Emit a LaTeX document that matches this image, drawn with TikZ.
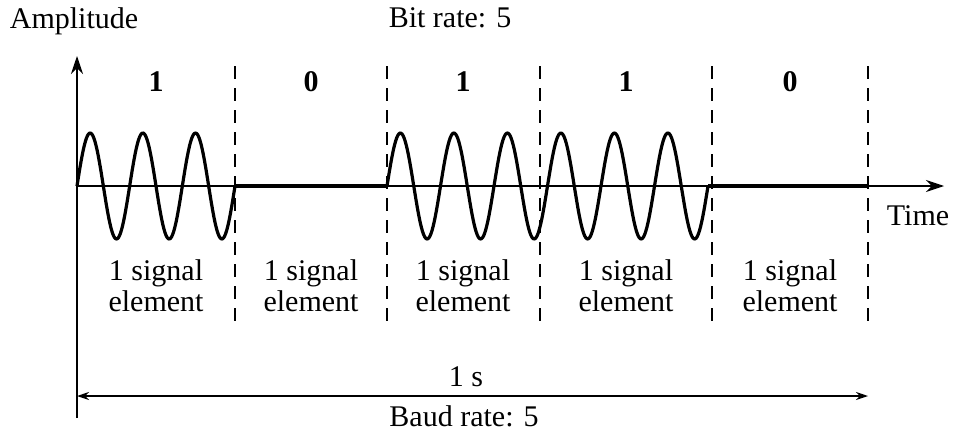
\documentclass[tikz,border=0pt]{standalone}
\usepackage{fontspec}
\setmainfont{Liberation Serif}
\usetikzlibrary{arrows.meta}

\tikzset{
  axisline/.style={line width=0.6pt, -{Stealth[length=9pt,width=6pt]}},
  spanline/.style={line width=0.7pt, {Stealth[length=6pt,width=4pt]}-{Stealth[length=6pt,width=4pt]}},
  wave/.style={line width=1.6pt, line join=round},
  divider/.style={line width=0.9pt, dash pattern=on 6.5pt off 4.5pt},
  lbl/.style={font=\fontsize{15}{15.5}\selectfont, inner sep=0pt, align=center},
  bitlbl/.style={lbl, font=\fontsize{15}{15.5}\selectfont\bfseries},
}

\begin{document}
\begin{tikzpicture}[x=0.5pt,y=-0.5pt]
  \useasboundingbox (0,0) rectangle (956,434);

  % axes
  \coordinate (origin) at (77,186);
  \coordinate (ytip) at (77,56);
  \coordinate (ybottom) at (77,418);
  \coordinate (xtip) at (944,186);
  \draw[axisline] (ybottom) -- (ytip);
  \draw[axisline] (origin) -- (xtip);

  \node[lbl] (amp) at (74,21) {Amplitude};
  \node[lbl] (bitrate) at (450,18) {Bit rate: 5};
  \node[lbl] (time) at (918,216) {Time};

  % bit boundaries
  \foreach \bx in {235,387,540,712,868}
    \draw[divider] (\bx,66) -- (\bx,326);

  % signal: 1 0 1 1 0
  \draw[wave] plot[domain=77:235,samples=150] (\x,{186-53*sin((\x-77)/158*1080)});
  \draw[wave] (235,186) -- (387,186);
  \draw[wave] plot[domain=387:708,samples=300] (\x,{186-53*sin((\x-387)/321*2160)});
  \draw[wave] (708,186) -- (868,186);

  \foreach \cx/\b in {156/1,311/0,463/1,626/1,790/0} {
    \node[bitlbl] at (\cx,82) {\b};
    \node[lbl] at (\cx,286) {1 signal\\element};
  }

  % duration
  \coordinate (spanl) at (77,396);
  \coordinate (spanr) at (868,396);
  \draw[spanline] (spanl) -- (spanr);
  \node[lbl] (onesec) at (466,377) {1 s};
  \node[lbl] (baud) at (464,416) {Baud rate: 5};
\end{tikzpicture}
\end{document}
